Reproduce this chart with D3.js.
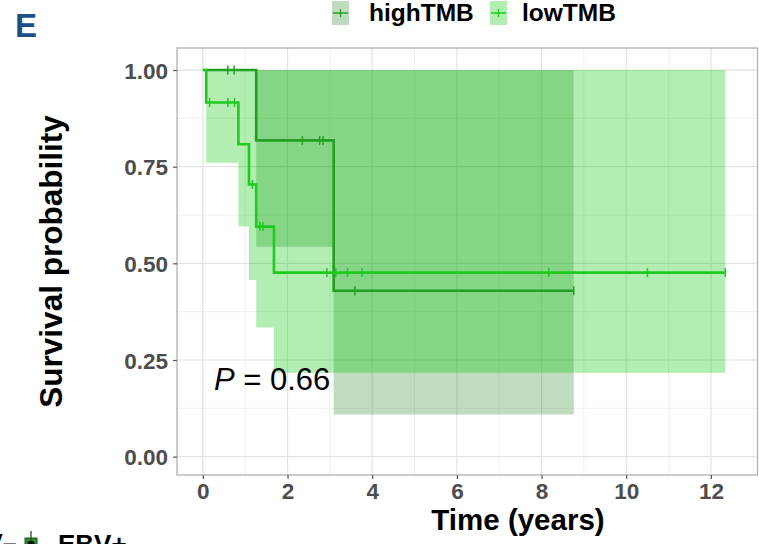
<!DOCTYPE html>
<html>
<head>
<meta charset="utf-8">
<script src="https://cdn.jsdelivr.net/npm/d3@7/dist/d3.min.js"></script>
<style>
  html, body { margin: 0; padding: 0; background: #fff; }
  svg { display: block; font-family: "Liberation Sans", Arial, sans-serif; }
</style>
</head>
<body>
<svg id="chart" width="759" height="544"></svg>
<script>
// Kaplan–Meier estimates by tumour mutational burden group
const groups = ["highTMB", "lowTMB"];

const highTime  = [0, 1.26, 3.09];
const highSurv  = [1, 0.818, 0.429];
const highLower = [1, 0.543, 0.109];
const highUpper = [1, 1, 1];
const highEnd   = 8.76;
const highCensor = [0.59, 0.74, 2.35, 2.76, 2.84, 3.59, 8.76];

const lowTime  = [0, 0.08, 0.84, 1.09, 1.26, 1.68];
const lowSurv  = [1, 0.916, 0.808, 0.704, 0.595, 0.476];
const lowLower = [1, 0.76, 0.595, 0.457, 0.334, 0.217];
const lowUpper = [1, 1, 1, 1, 1, 1];
const lowEnd   = 12.34;
const lowCensor = [0.16, 0.59, 0.75, 1.17, 1.35, 1.42, 2.93, 3.14, 3.42, 3.76, 8.17, 10.5, 12.34];

const xTicks = [0, 2, 4, 6, 8, 10, 12];
const xMinor = [1, 3, 5, 7, 9, 11, 13];
const yTicks = [0, 0.25, 0.5, 0.75, 1];
const yMinor = [0.125, 0.375, 0.625, 0.875];
const pValue = "0.66";

const lineColor = { highTMB: "#22a022", lowTMB: "#1ecb1e" };
const bandColor = { highTMB: "#308a30", lowTMB: "#00c800" };
const bandAlpha = 0.3;

const svg = d3.select("#chart");
const panel = { left: 177, right: 757.5, top: 48, bottom: 475 };

const x = d3.scaleLinear().domain([-0.61, 13.1]).range([panel.left, panel.right]);
const y = d3.scaleLinear().domain([-0.0475, 1.057]).range([panel.bottom, panel.top]);

// grid
const grid = svg.append("g");
grid.selectAll(".xmin").data(xMinor.filter(d => x(d) < panel.right)).join("line")
  .attr("x1", d => x(d)).attr("x2", d => x(d))
  .attr("y1", panel.top).attr("y2", panel.bottom)
  .attr("stroke", "#f0f0f0").attr("stroke-width", 1);
grid.selectAll(".ymin").data(yMinor).join("line")
  .attr("y1", d => y(d)).attr("y2", d => y(d))
  .attr("x1", panel.left).attr("x2", panel.right)
  .attr("stroke", "#f0f0f0").attr("stroke-width", 1);
grid.selectAll(".xmaj").data(xTicks).join("line")
  .attr("x1", d => x(d)).attr("x2", d => x(d))
  .attr("y1", panel.top).attr("y2", panel.bottom)
  .attr("stroke", "#e3e3e3").attr("stroke-width", 1.2);
grid.selectAll(".ymaj").data(yTicks).join("line")
  .attr("y1", d => y(d)).attr("y2", d => y(d))
  .attr("x1", panel.left).attr("x2", panel.right)
  .attr("stroke", "#e3e3e3").attr("stroke-width", 1.2);

// series records built from the arrays
function build(name, t, s, lo, up, end, cens) {
  const pts = t.map((ti, i) => ({ t: ti, s: s[i], lo: lo[i], up: up[i] }));
  pts.push({ t: end, s: s[s.length - 1], lo: lo[lo.length - 1], up: up[up.length - 1] });
  const censor = cens.map(c => {
    let v = s[0];
    t.forEach((ti, i) => { if (ti <= c) v = s[i]; });
    return { t: c, s: v };
  });
  return { name, pts, censor };
}
const series = [
  build("highTMB", highTime, highSurv, highLower, highUpper, highEnd, highCensor),
  build("lowTMB", lowTime, lowSurv, lowLower, lowUpper, lowEnd, lowCensor)
];

// confidence bands
const band = d3.area().curve(d3.curveStepAfter)
  .x(d => x(d.t)).y0(d => y(d.lo)).y1(d => y(d.up));
svg.append("g").selectAll("path").data(series).join("path")
  .attr("d", d => band(d.pts))
  .attr("fill", d => bandColor[d.name])
  .attr("fill-opacity", bandAlpha);

// survival step lines
const step = d3.line().curve(d3.curveStepAfter).x(d => x(d.t)).y(d => y(d.s));
svg.append("g").selectAll("path").data(series).join("path")
  .attr("d", d => step(d.pts))
  .attr("fill", "none")
  .attr("stroke", d => lineColor[d.name])
  .attr("stroke-width", 2.6);

// censor marks
series.forEach(sr => {
  svg.append("g").selectAll("line").data(sr.censor).join("line")
    .attr("x1", d => x(d.t)).attr("x2", d => x(d.t))
    .attr("y1", d => y(d.s) - 4.5).attr("y2", d => y(d.s) + 4.5)
    .attr("stroke", lineColor[sr.name]).attr("stroke-width", 1.5);
});

// panel border
svg.append("rect")
  .attr("x", panel.left).attr("y", panel.top)
  .attr("width", panel.right - panel.left).attr("height", panel.bottom - panel.top)
  .attr("fill", "none").attr("stroke", "#b0b0b0").attr("stroke-width", 1.3);

// axes
const xAxis = svg.append("g").attr("transform", `translate(0,${panel.bottom})`)
  .call(d3.axisBottom(x).tickValues(xTicks).tickSize(4).tickPadding(4).tickFormat(d3.format("d")));
const yAxis = svg.append("g").attr("transform", `translate(${panel.left},0)`)
  .call(d3.axisLeft(y).tickValues(yTicks).tickSize(4).tickPadding(5).tickFormat(d3.format(".2f")));
[xAxis, yAxis].forEach(a => {
  a.select(".domain").remove();
  a.selectAll(".tick line").attr("stroke", "#555").attr("stroke-width", 1.2);
  a.selectAll(".tick text")
    .attr("fill", "#4d4d4d")
    .style("font-family", "'Liberation Sans', Arial, sans-serif")
    .style("font-size", "22.5px").style("font-weight", "bold");
});
xAxis.selectAll(".tick text").attr("dy", "0.72em");
yAxis.selectAll(".tick text").attr("dy", "0.36em");

// axis titles
svg.append("text")
  .attr("x", 518).attr("y", 530)
  .attr("text-anchor", "middle")
  .style("font-size", "29.5px").style("font-weight", "bold")
  .text("Time (years)");
svg.append("text")
  .attr("transform", `translate(62,${(panel.top + panel.bottom) / 2}) rotate(-90)`)
  .attr("text-anchor", "middle")
  .style("font-size", "31.5px").style("font-weight", "bold")
  .text("Survival probability");

// p-value
const pt = svg.append("text").attr("x", 214).attr("y", 390)
  .style("font-size", "31px");
pt.append("tspan").style("font-style", "italic").text("P");
pt.append("tspan").text(" = " + pValue);

// legend
const legend = svg.append("g");
const legendPos = [{ x: 332, tx: 369 }, { x: 490, tx: 522 }];
groups.forEach((g, i) => {
  const p = legendPos[i];
  legend.append("rect").attr("x", p.x).attr("y", 1).attr("width", 17).attr("height", 24)
    .attr("fill", bandColor[g]).attr("fill-opacity", bandAlpha);
  legend.append("line").attr("x1", p.x + 1).attr("x2", p.x + 16).attr("y1", 13).attr("y2", 13)
    .attr("stroke", lineColor[g]).attr("stroke-width", 1.5);
  legend.append("line").attr("x1", p.x + 8.5).attr("x2", p.x + 8.5).attr("y1", 9).attr("y2", 17)
    .attr("stroke", lineColor[g]).attr("stroke-width", 1.3);
  legend.append("text").attr("x", p.tx).attr("y", 21)
    .style("font-size", "24.5px").style("font-weight", "bold")
    .text(g);
});

// panel letter
svg.append("text").attr("x", 15).attr("y", 37)
  .attr("fill", "#1d4f8b")
  .style("font-size", "33px").style("font-weight", "bold")
  .text("E");

// neighbouring legend row along the bottom edge
const foot = svg.append("g");
foot.append("text").attr("x", -14).attr("y", 552)
  .style("font-size", "25px").style("font-weight", "bold").text("V\u2013");
foot.append("rect").attr("x", 25).attr("y", 538).attr("width", 12).attr("height", 14)
  .attr("fill", "#2e8b2e").attr("stroke", "#1a5a1a");
foot.append("line").attr("x1", 31).attr("x2", 31).attr("y1", 531).attr("y2", 540)
  .attr("stroke", "#1a5a1a").attr("stroke-width", 1.3);
foot.append("circle").attr("cx", 31).attr("cy", 544).attr("r", 3.5).attr("fill", "#111");
foot.append("text").attr("x", 58).attr("y", 553)
  .style("font-size", "26px").style("font-weight", "bold").text("EBV+");
</script>
</body>
</html>
